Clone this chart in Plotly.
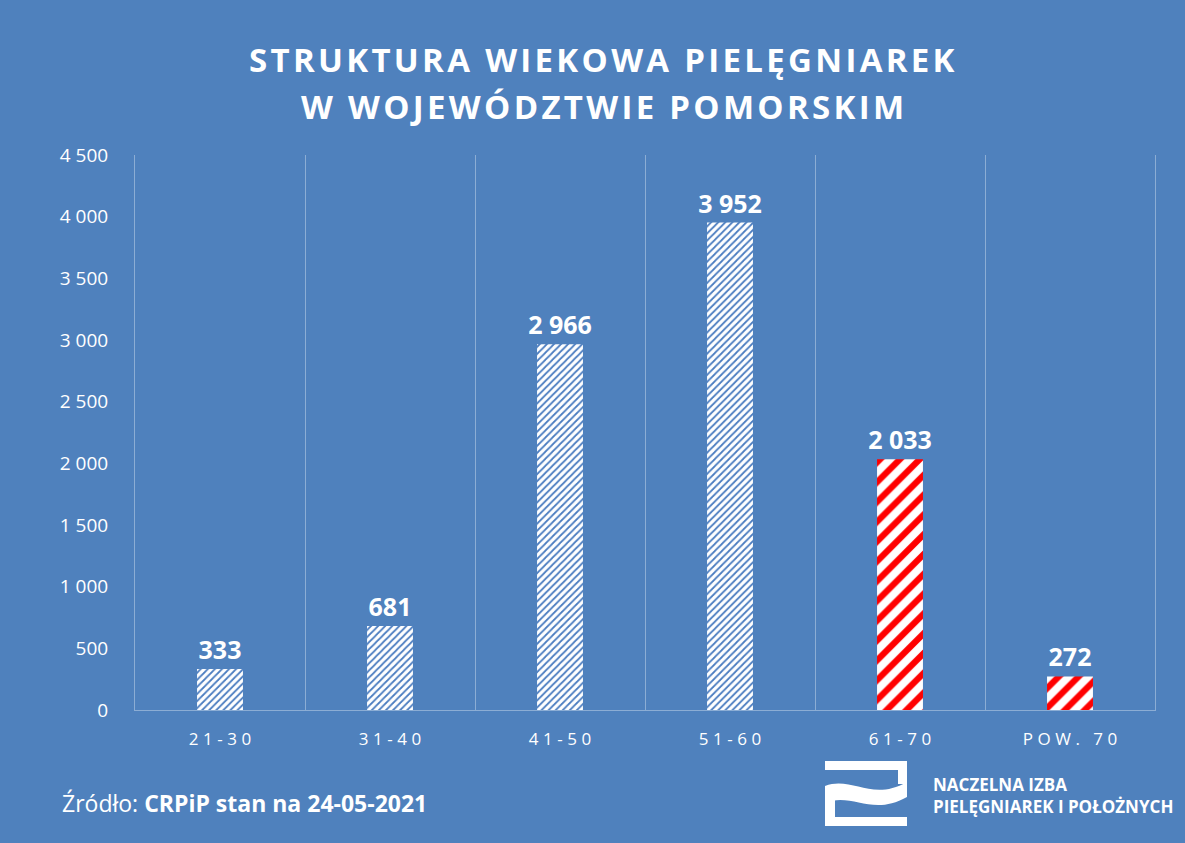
import plotly.graph_objects as go

# ---- data ----
categories = ["21-30", "31-40", "41-50", "51-60", "61-70", "POW. 70"]
values = [333, 681, 2966, 3952, 2033, 272]
y_ticks = [0, 500, 1000, 1500, 2000, 2500, 3000, 3500, 4000, 4500]
title_lines = ["STRUKTURA WIEKOWA PIELĘGNIAREK", "W WOJEWÓDZTWIE POMORSKIM"]
source_label = "Źródło: "
source_text = "CRPiP stan na 24-05-2021"
logo_lines = ["NACZELNA IZBA", "PIELĘGNIAREK I POŁOŻNYCH"]

BG = "#4F81BD"
W, H = 1185, 843
L, R, T, B = 135, 30, 155, 133
PW, PH = W - L - R, H - T - B


def px(x, y):
    return (x - L) / PW, (H - B - y) / PH


def spaced(s, sep="\u200a"):
    return sep.join(s)


old_mask = [c in ("61-70", "POW. 70") for c in categories]
fg = ["#FF0000" if m else "#4A7CC0" for m in old_mask]
psize = [14 if m else 5 for m in old_mask]
psol = [0.45 if m else 0.35 for m in old_mask]

fig = go.Figure()
fig.add_trace(go.Bar(
    x=categories,
    y=values,
    marker=dict(
        color="white",
        line=dict(width=0),
        pattern=dict(shape="/", fgcolor=fg, bgcolor="white", size=psize,
                     solidity=psol, fillmode="replace"),
    ),
    text=values,
    texttemplate="%{y:,d}",
    textposition="outside",
    constraintext="none",
    textfont=dict(family="Open Sans", size=25, color="white", weight="bold"),
    cliponaxis=False,
    hoverinfo="skip",
))

shapes = []


def rect(x0, y0, x1, y1):
    a = px(x0, y0)
    b = px(x1, y1)
    shapes.append(dict(type="rect", xref="paper", yref="paper",
                       x0=a[0], y0=a[1], x1=b[0], y1=b[1],
                       fillcolor="white", line=dict(width=0)))


rect(825, 761, 907, 770)
rect(898, 761, 907, 784)
rect(825, 798, 835, 826)
rect(825, 817, 907, 826)

pts = [("M", [(825, 786)]), ("C", [(852, 776), (872, 802), (907, 782)]),
       ("L", [(907, 797)]), ("C", [(872, 817), (852, 792), (825, 803)])]
path = ""
for cmd, ps in pts:
    path += cmd + " " + " ".join("%.5f,%.5f" % px(x, y) for x, y in ps) + " "
path += "Z"
shapes.append(dict(type="path", xref="paper", yref="paper", path=path,
                   fillcolor="white", line=dict(width=0)))

annotations = []
for line, yy in zip(title_lines, [60, 106]):
    annotations.append(dict(
        text=spaced(line), xref="paper", yref="paper",
        x=px(602, 0)[0], y=px(0, yy)[1], xanchor="center", yanchor="middle",
        showarrow=False,
        font=dict(family="Open Sans", size=33, color="white", weight="bold")))

annotations.append(dict(
    text=source_label + "<b>" + source_text + "</b>",
    xref="paper", yref="paper", x=px(60, 0)[0], y=px(0, 803)[1],
    xanchor="left", yanchor="middle", showarrow=False,
    font=dict(family="Open Sans", size=23, color="white")))

for line, yy in zip(logo_lines, [784, 806]):
    annotations.append(dict(
        text="<b>" + line + "</b>", xref="paper", yref="paper",
        x=px(931, 0)[0], y=px(0, yy)[1], xanchor="left", yanchor="middle",
        showarrow=False,
        font=dict(family="Open Sans", size=17, color="white")))

grid = "rgba(255,255,255,0.35)"
fig.update_layout(
    width=W, height=H,
    margin=dict(l=L, r=R, t=T, b=B),
    paper_bgcolor=BG, plot_bgcolor=BG,
    separators=", ",
    bargap=0.73,
    showlegend=False,
    shapes=shapes,
    annotations=annotations,
    xaxis=dict(
        type="category",
        tickmode="array", tickvals=categories,
        ticktext=[spaced(c, "\u2009\u200a") for c in categories],
        tickson="boundaries", showgrid=True, gridcolor=grid, gridwidth=1,
        ticks="", showline=True, linecolor=grid, linewidth=1,
        tickfont=dict(family="Open Sans", size=17, color="white"),
        ticklabelstandoff=14,
        fixedrange=True,
    ),
    yaxis=dict(
        range=[0, 4500], tickmode="array", tickvals=y_ticks,
        tickformat=",d", showgrid=False, zeroline=False,
        showline=True, mirror=True, linecolor=grid, linewidth=1,
        ticks="", tickfont=dict(family="Open Sans", size=19, color="white"),
        ticklabelstandoff=22,
        fixedrange=True,
    ),
)

fig.write_html(
    "out.html",
    config={"displayModeBar": False},
    post_script="document.body.style.margin='0';document.body.style.overflow='hidden';",
)
